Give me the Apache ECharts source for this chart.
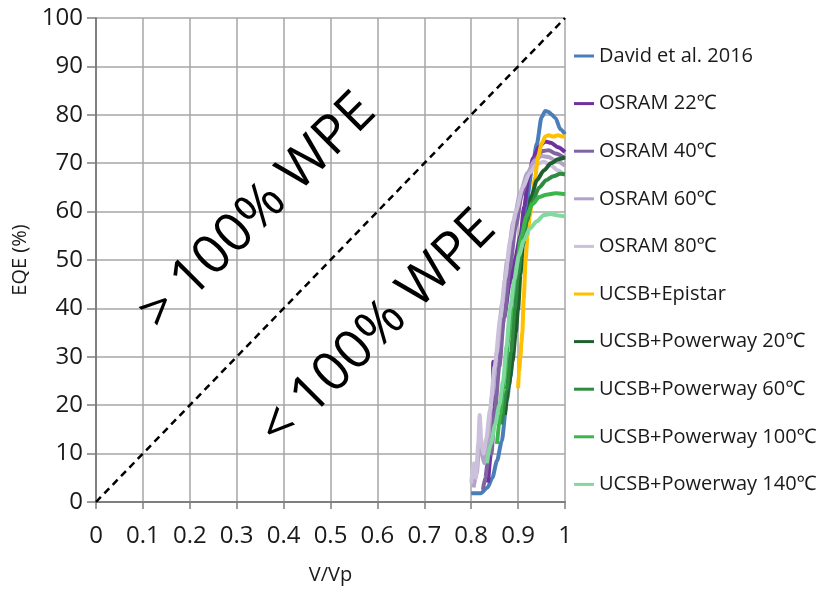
<!DOCTYPE html>
<html>
<head>
<meta charset="utf-8">
<script src="https://cdn.jsdelivr.net/npm/echarts@6/dist/echarts.min.js"></script>
<style>
  html, body { margin: 0; padding: 0; background: #ffffff; }
  #chart { width: 820px; height: 590px; }
</style>
</head>
<body>
<div id="chart"></div>
<script>
// EQE (%) versus normalised voltage V/Vp for several LED devices
const seriesNames = [
  'David et al. 2016',
  'OSRAM 22\u2103',
  'OSRAM 40\u2103',
  'OSRAM 60\u2103',
  'OSRAM 80\u2103',
  'UCSB+Epistar',
  'UCSB+Powerway 20\u2103',
  'UCSB+Powerway 60\u2103',
  'UCSB+Powerway 100\u2103',
  'UCSB+Powerway 140\u2103'
];

const seriesColors = [
  '#4A7EBB', '#7030A0', '#8064A2', '#B3A2C7', '#CCC1DA',
  '#FFC000', '#1F5F2E', '#2E8B3F', '#3CB54A', '#82D9A0'
];

// [V/Vp, EQE %]
const david2016 = [[0.800,1.8],[0.820,1.8],[0.835,3],[0.845,5],[0.855,8.5],[0.865,12.5],[0.876,21],[0.884,26],[0.893,37],[0.905,50],[0.918,62],[0.930,69],[0.940,74],[0.950,79.5],[0.958,80.8],[0.965,80.6],[0.972,80],[0.980,79.3],[0.990,77],[1.0,76]];
const osram22 = [[0.836,4],[0.842,10],[0.846,20],[0.847,29],[0.849,27],[0.858,31],[0.870,38],[0.882,45],[0.893,50],[0.905,55],[0.913,61],[0.922,67],[0.932,71],[0.945,73.5],[0.958,74.5],[0.970,74.2],[0.985,73.3],[1.0,72.3]];
const osram40 = [[0.825,2.5],[0.830,5],[0.835,8],[0.840,15],[0.843,10],[0.850,18],[0.860,28],[0.870,38],[0.882,48],[0.895,57],[0.908,63.5],[0.922,68],[0.937,71],[0.952,72.5],[0.965,72.7],[0.980,72],[1.0,71]];
const osram60 = [[0.805,3],[0.812,6],[0.818,14],[0.822,10],[0.828,8],[0.835,12],[0.845,22],[0.855,31],[0.866,41],[0.877,50],[0.890,58],[0.905,64],[0.920,68],[0.935,70.5],[0.950,71.5],[0.965,71.3],[0.980,70.5],[1.0,69.5]];
const osram80 = [[0.800,4],[0.805,8],[0.810,5],[0.815,12],[0.818,18],[0.822,12],[0.826,10],[0.832,13],[0.840,19],[0.850,28],[0.862,38],[0.872,46],[0.883,54],[0.895,60],[0.910,65],[0.925,68],[0.940,69.8],[0.955,70.3],[0.970,69.5],[0.985,68.5],[1.0,67.5]];
const ucsbEpistar = [[0.900,23.5],[0.902,27],[0.905,30],[0.907,33],[0.909,35],[0.912,42],[0.916,50],[0.920,55],[0.925,59],[0.930,63],[0.936,67],[0.943,71.5],[0.950,74],[0.958,75.5],[0.965,75.8],[0.975,75.5],[0.985,75.8],[0.995,75.5],[1.0,75.6]];
const powerway20 = [[0.872,18],[0.880,24],[0.888,29],[0.895,35],[0.900,40],[0.905,47],[0.910,53],[0.918,58],[0.928,63],[0.940,66.5],[0.955,68.5],[0.970,70],[0.985,70.8],[1.0,71.2]];
const powerway60 = [[0.865,16],[0.875,23],[0.885,31],[0.893,40],[0.900,47],[0.908,53],[0.918,58],[0.930,62],[0.945,65],[0.960,66.5],[0.975,67.3],[0.990,67.8],[1.0,67.7]];
const powerway100 = [[0.855,12],[0.862,18],[0.870,25],[0.880,34],[0.888,42],[0.897,49],[0.907,55],[0.918,59],[0.930,61.5],[0.945,63],[0.960,63.5],[0.980,63.8],[1.0,63.6]];
const powerway140 = [[0.833,8],[0.842,12],[0.851,16],[0.860,20],[0.868,25],[0.875,32],[0.883,40],[0.892,46],[0.902,51],[0.912,54],[0.925,56.5],[0.940,58],[0.955,59.3],[0.970,59.5],[0.985,59.2],[1.0,59]];

// 100 % wall-plug-efficiency boundary (EQE = 100 * V/Vp)
const wpeBoundary = [[0, 0], [1, 100]];
const regionLabels = ['> 100% WPE', '< 100% WPE'];

const seriesData = [david2016, osram22, osram40, osram60, osram80, ucsbEpistar, powerway20, powerway60, powerway100, powerway140];

const FONT = '"Open Sans", "Noto Sans", "Noto Sans CJK SC", sans-serif';

const chart = echarts.init(document.getElementById('chart'), null, { renderer: 'canvas' });

const curves = seriesNames.map((name, i) => ({
  name: name,
  type: 'line',
  data: seriesData[i],
  symbol: 'none',
  smooth: 0.25,
  smoothMonotone: 'x',
  lineStyle: { color: seriesColors[i], width: 4 },
  itemStyle: { color: seriesColors[i] },
  z: 3 + i
}));

chart.setOption({
  animation: false,
  backgroundColor: '#ffffff',
  grid: { left: 96, top: 18, width: 469, height: 486, containLabel: false },
  xAxis: {
    type: 'value', min: 0, max: 1, interval: 0.1,
    name: 'V/Vp', nameLocation: 'middle', nameGap: 63,
    nameTextStyle: { fontFamily: FONT, fontSize: 20, color: '#1a1a1a' },
    axisLine: { lineStyle: { color: '#7f7f7f', width: 2 } },
    axisTick: { show: true, length: 7, lineStyle: { color: '#7f7f7f', width: 1.5 } },
    axisLabel: { fontFamily: FONT, fontSize: 24, color: '#1a1a1a', margin: 22 },
    splitLine: { show: true, lineStyle: { color: '#a6a6a6', width: 1.5 } }
  },
  yAxis: {
    type: 'value', min: 0, max: 100, interval: 10,
    name: 'EQE (%)', nameLocation: 'middle', nameGap: 66,
    nameTextStyle: { fontFamily: FONT, fontSize: 20, color: '#1a1a1a' },
    axisLine: { show: true, lineStyle: { color: '#7f7f7f', width: 2 } },
    axisTick: { show: true, length: 9, lineStyle: { color: '#7f7f7f', width: 1.5 } },
    axisLabel: { fontFamily: FONT, fontSize: 24, color: '#1a1a1a', margin: 13 },
    splitLine: { show: true, lineStyle: { color: '#a6a6a6', width: 1.5 } }
  },
  legend: {
    orient: 'vertical',
    left: 569, top: 41,
    data: seriesNames,
    icon: 'rect',
    itemWidth: 20, itemHeight: 3,
    itemGap: 27.6,
    textStyle: { fontFamily: FONT, fontSize: 20, color: '#1a1a1a', lineHeight: 20 }
  },
  graphic: [
    {
      type: 'text', x: 258, y: 212, rotation: Math.PI / 4, z: 2,
      style: { text: regionLabels[0], font: '54px ' + FONT, fill: '#000', align: 'center', verticalAlign: 'middle' }
    },
    {
      type: 'text', x: 378, y: 329, rotation: Math.PI / 4, z: 2,
      style: { text: regionLabels[1], font: '54px ' + FONT, fill: '#000', align: 'center', verticalAlign: 'middle' }
    }
  ],
  series: [
    {
      name: 'WPE boundary',
      type: 'line',
      data: wpeBoundary,
      symbol: 'none',
      lineStyle: { color: '#000', width: 2.5, type: [7, 5] },
      z: 2
    }
  ].concat(curves)
});
</script>
</body>
</html>
